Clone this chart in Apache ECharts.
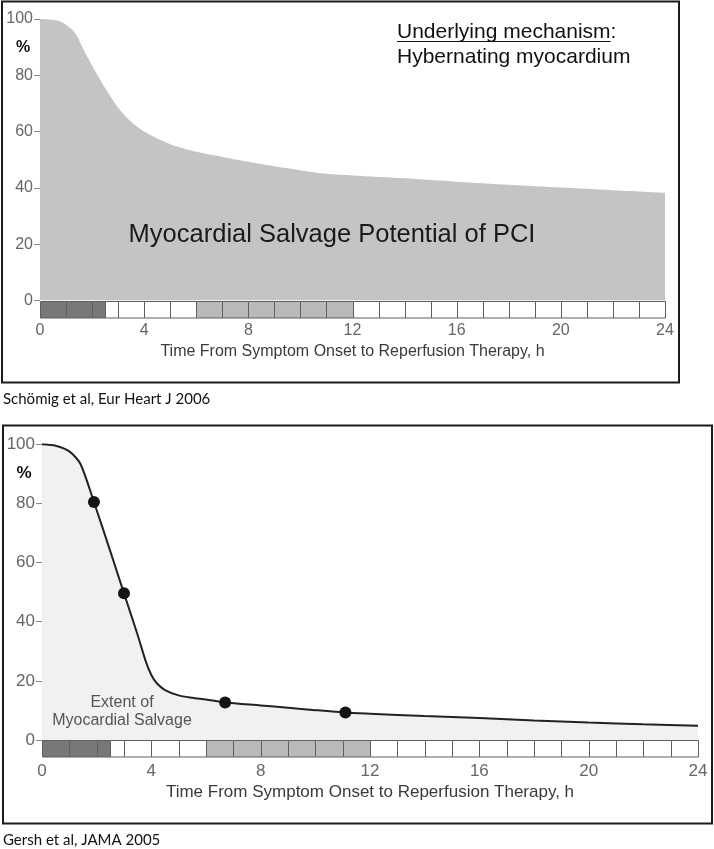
<!DOCTYPE html>
<html>
<head>
<meta charset="utf-8">
<script src="https://cdn.jsdelivr.net/npm/echarts@6/dist/echarts.min.js"></script>
<style>
html,body{margin:0;padding:0;background:#fff;}
#chart{width:714px;height:849px;}
</style>
</head>
<body>
<div id="chart"></div>
<script>
// ---- Data ----
// Top panel (Schömig et al, Eur Heart J 2006)
const topHours  = [0, 0.4, 0.8, 1.2, 1.45, 1.6, 2.0, 2.5, 3.0, 3.5, 4.0, 5.0, 6.0, 7.0, 8.0, 9.0, 10.0, 11.0, 12.0, 14.0, 16.0, 18.0, 20.0, 22.0, 24.0];
const topValues = [100, 99.8, 99.0, 96.5, 93.5, 90.5, 83.5, 75.5, 68.5, 63.5, 60.0, 55.5, 52.8, 51.0, 49.3, 47.7, 46.3, 45.0, 44.4, 43.4, 42.2, 41.1, 40.1, 39.2, 38.3];

// Bottom panel (Gersh et al, JAMA 2005)
const botHours  = [0, 0.5, 1.0, 1.4, 1.9, 2.5, 3.0, 3.5, 3.8, 4.0, 4.2, 4.5, 5.0, 5.5, 6.0, 6.7, 8.0, 9.0, 10.0, 11.1, 12.0, 14.0, 16.0, 18.0, 20.0, 22.0, 24.0];
const botValues = [100, 99.5, 97.6, 93.5, 80.5, 63.8, 49.6, 35.5, 26.5, 22.0, 19.2, 16.9, 15.1, 14.3, 13.7, 12.7, 11.7, 10.9, 10.1, 9.3, 8.9, 8.1, 7.4, 6.6, 5.9, 5.3, 4.8];
const dotHours  = [1.9, 3.0, 6.7, 11.1];
const dotValues = [80.5, 49.6, 12.7, 9.3];

// Time strip cells under the x axis (0 = dark, 1 = white, 2 = light grey)
const stripStart = [0, 1, 2, 2.5, 3, 4, 5, 6, 7, 8, 9, 10, 11, 12, 13, 14, 15, 16, 17, 18, 19, 20, 21, 22, 23];
const stripEnd   = [1, 2, 2.5, 3, 4, 5, 6, 7, 8, 9, 10, 11, 12, 13, 14, 15, 16, 17, 18, 19, 20, 21, 22, 23, 24];
const stripShade = [0, 0, 0, 1, 1, 1, 1, 2, 2, 2, 2, 2, 2, 1, 1, 1, 1, 1, 1, 1, 1, 1, 1, 1, 1];

// Axis ticks / labels
const xMin = 0, xMax = 24, xStep = 4;
const yMin = 0, yMax = 100, yStep = 20;
const xTitle = 'Time From Symptom Onset to Reperfusion Therapy, h';

// ---- Build ----
const shadeColors = ['#787878', '#ffffff', '#b9b9b9'];
const stripData = stripStart.map((s, i) => [s, stripEnd[i], stripShade[i]]);
const zip = (a, b) => a.map((v, i) => [v, b[i]]);

function stripSeries(gridIdx, h) {
  return {
    type: 'custom', xAxisIndex: gridIdx, yAxisIndex: gridIdx, clip: false, z: 5,
    data: stripData, encode: { x: [0, 1] },
    renderItem: function (params, api) {
      const s = api.coord([api.value(0), 0]);
      const e = api.coord([api.value(1), 0]);
      const x0 = Math.round(s[0]), x1 = Math.round(e[0]);
      return {
        type: 'rect',
        shape: { x: x0 + 0.5, y: Math.round(s[1]) + 0.5, width: x1 - x0, height: h },
        style: { fill: shadeColors[api.value(2)], stroke: '#5f5f5f', lineWidth: 1 }
      };
    }
  };
}

const FONT = '"Liberation Sans", Arial, Helvetica, sans-serif';

function xAxisCfg(gridIdx, fs, margin, gap) {
  return {
    type: 'value', gridIndex: gridIdx, min: xMin, max: xMax, interval: xStep,
    axisLine: { show: false }, axisTick: { show: false }, splitLine: { show: false },
    axisLabel: { color: '#666', fontSize: fs, fontFamily: FONT, margin: margin },
    name: xTitle, nameLocation: 'middle', nameGap: gap,
    nameTextStyle: { color: '#3a3a3a', fontSize: fs, fontFamily: FONT }
  };
}
function yAxisCfg(gridIdx, fs, showLine) {
  return {
    type: 'value', gridIndex: gridIdx, min: yMin, max: yMax, interval: yStep,
    axisLine: { show: showLine, lineStyle: { color: '#8a8a8a', width: 1 } },
    axisTick: { show: true, length: 6, lineStyle: { color: '#8a8a8a' } },
    splitLine: { show: false },
    axisLabel: { color: '#666', fontSize: fs, fontFamily: FONT, margin: 7 }
  };
}

const chart = echarts.init(document.getElementById('chart'), null, { renderer: 'canvas' });

// measure underline width
const mctx = document.createElement('canvas').getContext('2d');
mctx.font = '21px "Liberation Sans", Arial, sans-serif';
const ulW = mctx.measureText('Underlying mechanism').width;

chart.setOption({
  backgroundColor: '#ffffff',
  animation: false,
  grid: [
    { left: 40, top: 19, width: 625, height: 281.5 },
    { left: 42, top: 444.3, width: 656, height: 295.7 }
  ],
  xAxis: [xAxisCfg(0, 16, 22, 43), xAxisCfg(1, 17, 23, 44)],
  yAxis: [yAxisCfg(0, 16, false), yAxisCfg(1, 17, true)],
  series: [
    {
      type: 'line', xAxisIndex: 0, yAxisIndex: 0, data: zip(topHours, topValues),
      showSymbol: false, smooth: 0.25, lineStyle: { width: 0 },
      areaStyle: { color: '#c4c4c4', opacity: 1 }, z: 2
    },
    stripSeries(0, 16.5),
    {
      type: 'line', xAxisIndex: 1, yAxisIndex: 1, data: zip(botHours, botValues),
      showSymbol: false, smooth: 0.25, lineStyle: { color: '#222', width: 2 },
      areaStyle: { color: '#f1f1f1', opacity: 1 }, z: 2
    },
    {
      type: 'scatter', xAxisIndex: 1, yAxisIndex: 1, data: zip(dotHours, dotValues),
      symbolSize: 12, itemStyle: { color: '#151515', opacity: 1 }, z: 4
    },
    stripSeries(1, 16.5)
  ],
  graphic: [
    // frames
    { type: 'rect', shape: { x: 2, y: 1.5, width: 677, height: 381 }, style: { fill: null, stroke: '#1c1c1c', lineWidth: 2 }, z: 10 },
    { type: 'rect', shape: { x: 3, y: 425.5, width: 709, height: 398 }, style: { fill: null, stroke: '#1c1c1c', lineWidth: 2 }, z: 10 },
    // % labels
    { type: 'text', style: { x: 23, y: 48, text: '%', fill: '#111', font: 'bold 16px ' + FONT, align: 'center', verticalAlign: 'middle' }, z: 10 },
    { type: 'text', style: { x: 24, y: 473, text: '%', fill: '#111', font: 'bold 17px ' + FONT, align: 'center', verticalAlign: 'middle' }, z: 10 },
    // top annotations
    { type: 'text', style: { x: 397, y: 32, text: 'Underlying mechanism:', fill: '#111', font: '21px ' + FONT, align: 'left', verticalAlign: 'middle' }, z: 10 },
    { type: 'line', shape: { x1: 397, y1: 41.5, x2: 397 + ulW, y2: 41.5 }, style: { stroke: '#111', lineWidth: 1.2 }, z: 10 },
    { type: 'text', style: { x: 397, y: 57, text: 'Hybernating myocardium', fill: '#111', font: '21px ' + FONT, align: 'left', verticalAlign: 'middle' }, z: 10 },
    { type: 'text', style: { x: 332, y: 235, text: 'Myocardial Salvage Potential of PCI', fill: '#1a1a1a', font: '25.5px ' + FONT, align: 'center', verticalAlign: 'middle' }, z: 10 },
    // bottom annotation
    { type: 'text', style: { x: 122, y: 712, text: 'Extent of\nMyocardial Salvage', fill: '#555', font: '16px ' + FONT, lineHeight: 18, align: 'center', verticalAlign: 'middle' }, z: 10 },
    // captions
    { type: 'text', style: { x: 3, y: 399, text: 'Schömig et al, Eur Heart J 2006', fill: '#111', font: '15px Lato, "Open Sans", sans-serif', align: 'left', verticalAlign: 'middle' }, z: 10 },
    { type: 'text', style: { x: 3, y: 840, text: 'Gersh et al, JAMA 2005', fill: '#111', font: '15px Lato, "Open Sans", sans-serif', align: 'left', verticalAlign: 'middle' }, z: 10 }
  ]
});
</script>
</body>
</html>
